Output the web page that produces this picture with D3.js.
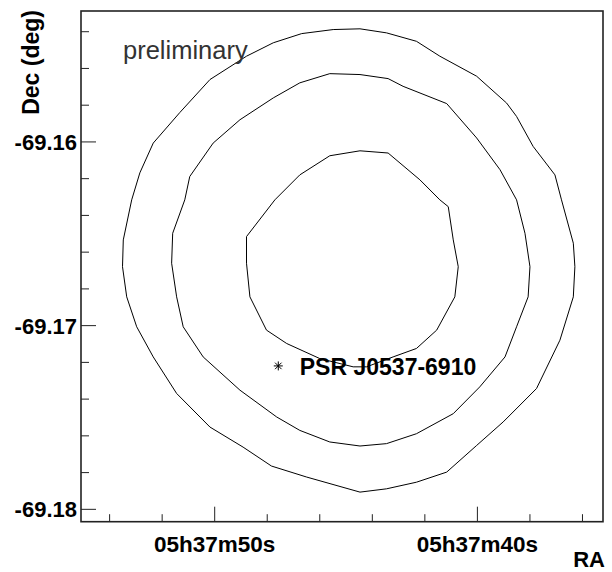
<!DOCTYPE html>
<html>
<head>
<meta charset="utf-8">
<script src="https://cdn.jsdelivr.net/npm/d3@7"></script>
<style>
  html, body { margin: 0; padding: 0; background: #fff; }
  svg { display: block; }
  text { font-family: "Liberation Sans", Arial, Helvetica, sans-serif; }
</style>
</head>
<body>
<svg id="chart" width="612" height="572"></svg>
<script>
// ---- data (RA seconds of 05h37m, Dec in degrees) ----
const raDomain = [55.07, 35.20];
const decDomain = [-69.1807, -69.1529];

const raMajorTicks = [50, 40];
const raTickLabels = ["05h37m50s", "05h37m40s"];
const raMinorTicks = [54, 52, 48, 46, 44, 42, 38, 36];

const decMajorTicks = [-69.16, -69.17, -69.18];
const decTickLabels = ["-69.16", "-69.17", "-69.18"];
const decMinorTicks = [-69.154, -69.156, -69.158, -69.162, -69.164, -69.166, -69.168,
                       -69.172, -69.174, -69.176, -69.178];

const outerRA = [53.14, 52.83, 52.32, 51.31, 50.16, 48.77, 47.75, 46.67, 45.47, 44.45,
                 43.44, 42.30, 41.41, 40.01, 38.87, 38.49, 37.86, 37.03, 36.78, 36.33,
                 36.27, 36.33, 36.84, 37.73, 39.00, 40.01, 41.15, 42.30, 43.44, 44.45,
                 46.48, 47.82, 48.90, 50.16, 51.43, 52.32, 52.95, 53.33, 53.49, 53.46];
const outerDec = [-69.16318, -69.16171, -69.16009, -69.15843, -69.15663, -69.15536, -69.15463, -69.15413, -69.15391, -69.15387,
                  -69.15409, -69.15455, -69.15536, -69.15645, -69.15791, -69.15864, -69.16027, -69.16182, -69.16318, -69.16554,
                  -69.16682, -69.16846, -69.17082, -69.17345, -69.17527, -69.17655, -69.17800, -69.17855, -69.17891, -69.17909,
                  -69.17827, -69.17767, -69.17664, -69.17555, -69.17372, -69.17173, -69.17009, -69.16846, -69.16682, -69.16536];

const middleRA = [51.12, 50.93, 50.04, 49.02, 47.75, 46.74, 45.60, 44.45, 43.38, 42.81,
                  41.15, 40.01, 39.12, 38.49, 38.17, 37.98, 38.05, 38.49, 38.93, 39.89,
                  40.90, 42.30, 43.44, 44.45, 45.60, 46.74, 47.62, 49.02, 50.42, 51.18,
                  51.43, 51.62, 51.58];
const middleDec = [-69.16318, -69.16191, -69.16009, -69.15882, -69.15763, -69.15681, -69.15631, -69.15636, -69.15658, -69.15700,
                   -69.15794, -69.15981, -69.16154, -69.16318, -69.16500, -69.16682, -69.16846, -69.17009, -69.17173, -69.17336,
                   -69.17482, -69.17591, -69.17645, -69.17658, -69.17636, -69.17573, -69.17500, -69.17354, -69.17173, -69.17009,
                   -69.16846, -69.16663, -69.16500];

const innerRA = [47.69, 46.74, 45.60, 44.45, 43.38, 42.17, 41.41, 41.09, 40.90, 40.71,
                 40.84, 41.53, 42.30, 43.19, 44.20, 44.71, 45.98, 47.24, 48.01, 48.64,
                 48.77, 48.77];
const innerDec = [-69.16318, -69.16182, -69.16078, -69.16051, -69.16063, -69.16209, -69.16318, -69.16355, -69.16536, -69.16682,
                  -69.16846, -69.17027, -69.17127, -69.17173, -69.17227, -69.17227, -69.17182, -69.17100, -69.17027, -69.16846,
                  -69.16663, -69.16518];

const pulsarName = "PSR J0537-6910";
const pulsarRA = 47.56;
const pulsarDec = -69.17222;

const xTitle = "RA";
const yTitle = "Dec (deg)";
const watermark = "preliminary";

// ---- layout ----
const frame = { left: 81, right: 603, top: 11, bottom: 521.7 };
const svg = d3.select("#chart");

const x = d3.scaleLinear().domain(raDomain).range([frame.left, frame.right]);
const y = d3.scaleLinear().domain(decDomain).range([frame.bottom, frame.top]);

// contours
const line = d3.line().x(d => x(d[0])).y(d => y(d[1])).curve(d3.curveLinearClosed);
const contours = [
  d3.zip(outerRA, outerDec),
  d3.zip(middleRA, middleDec),
  d3.zip(innerRA, innerDec)
];
svg.append("g").selectAll("path").data(contours).join("path")
  .attr("d", line)
  .attr("fill", "none")
  .attr("stroke", "#000")
  .attr("stroke-width", 1);

// watermark
svg.append("text")
  .attr("x", 123).attr("y", 58.5)
  .attr("font-size", 25.5)
  .attr("fill", "#333")
  .text(watermark);

// pulsar marker (asterisk)
const px = x(pulsarRA), py = y(pulsarDec), r = 4.5;
svg.append("path")
  .attr("d", `M${px - r},${py}L${px + r},${py}M${px},${py - r}L${px},${py + r}` +
             `M${px - r * 0.72},${py - r * 0.72}L${px + r * 0.72},${py + r * 0.72}` +
             `M${px - r * 0.72},${py + r * 0.72}L${px + r * 0.72},${py - r * 0.72}`)
  .attr("stroke", "#000").attr("stroke-width", 1).attr("fill", "none");
svg.append("text")
  .attr("x", px + 21.5).attr("y", py + 9)
  .attr("font-size", 23).attr("font-weight", "bold")
  .attr("fill", "#000")
  .text(pulsarName);

// axes: minor ticks
const axisColor = "#222";
const yMinor = svg.append("g").attr("transform", `translate(${frame.left},0)`)
  .call(d3.axisLeft(y).tickValues(decMinorTicks).tickSizeInner(-8).tickSizeOuter(0).tickFormat(""));
const xMinor = svg.append("g").attr("transform", `translate(0,${frame.bottom})`)
  .call(d3.axisBottom(x).tickValues(raMinorTicks).tickSizeInner(-7.5).tickSizeOuter(0).tickFormat(""));

// axes: major ticks with labels
const yMajor = svg.append("g").attr("transform", `translate(${frame.left},0)`)
  .call(d3.axisLeft(y).tickValues(decMajorTicks).tickSizeInner(-15).tickSizeOuter(0).tickPadding(4)
    .tickFormat((d, i) => decTickLabels[i]));
const xMajor = svg.append("g").attr("transform", `translate(0,${frame.bottom})`)
  .call(d3.axisBottom(x).tickValues(raMajorTicks).tickSizeInner(-15).tickSizeOuter(0)
    .tickFormat((d, i) => raTickLabels[i]));

[yMinor, xMinor, yMajor, xMajor].forEach(g => {
  g.select(".domain").remove();
  g.selectAll("line").attr("stroke", axisColor).attr("stroke-width", 1);
});
yMajor.selectAll("text")
  .attr("font-size", 22).attr("font-weight", "bold").attr("fill", "#000")
  .attr("font-family", "Liberation Sans, Arial, sans-serif")
  .attr("dy", "0.36em");
xMajor.selectAll("text")
  .attr("font-size", 22.5).attr("font-weight", "bold").attr("fill", "#000")
  .attr("font-family", "Liberation Sans, Arial, sans-serif")
  .attr("y", 30.5).attr("dy", 0);

// frame
svg.append("rect")
  .attr("x", frame.left).attr("y", frame.top)
  .attr("width", frame.right - frame.left).attr("height", frame.bottom - frame.top)
  .attr("fill", "none").attr("stroke", axisColor).attr("stroke-width", 1.6);

// axis titles
svg.append("text")
  .attr("x", 605).attr("y", 566.5)
  .attr("text-anchor", "end")
  .attr("font-size", 22).attr("font-weight", "bold").attr("fill", "#000")
  .text(xTitle);
svg.append("text")
  .attr("transform", "translate(38.5,10) rotate(-90)")
  .attr("text-anchor", "end")
  .attr("font-size", 23).attr("font-weight", "bold").attr("fill", "#000")
  .text(yTitle);
</script>
</body>
</html>
